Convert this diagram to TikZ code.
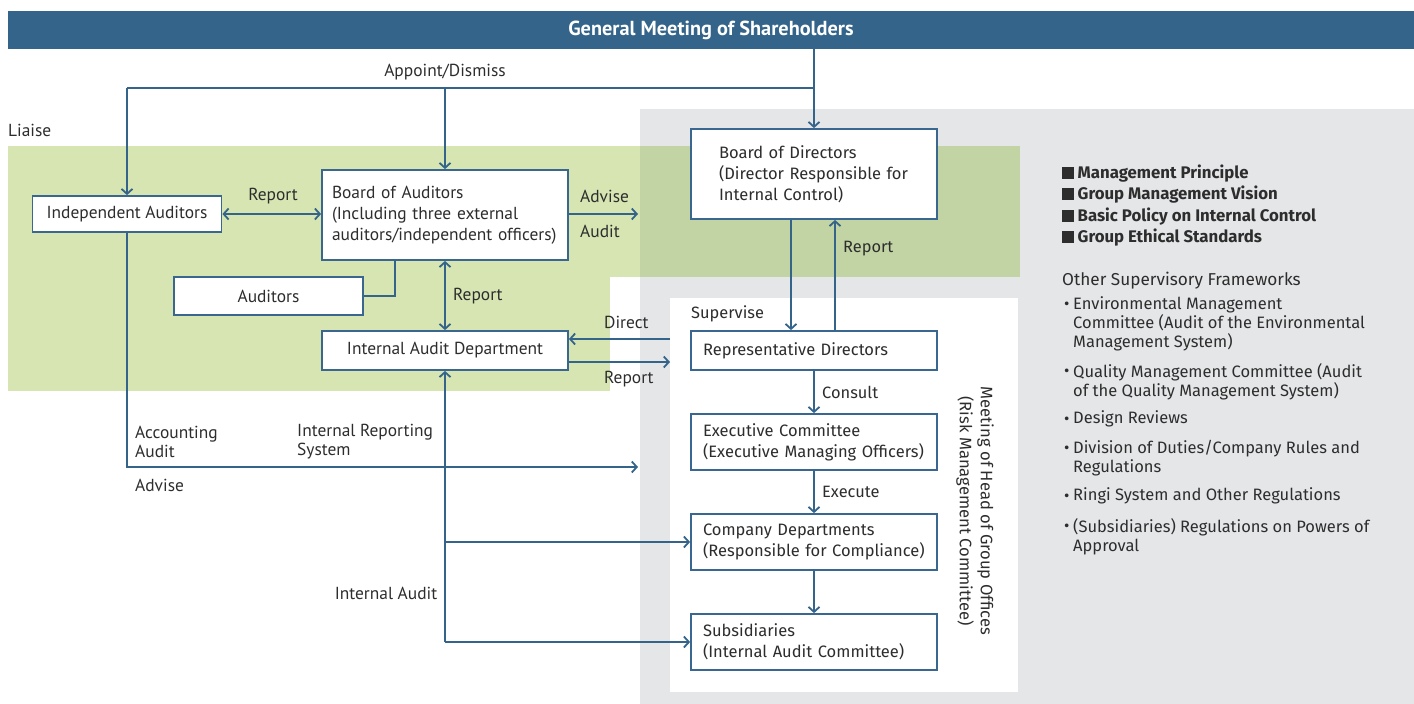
\documentclass[tikz,border=0pt]{standalone}
\usepackage{fontspec}
\setmainfont{Fira Sans}
\newfontfamily\narrowfont{PT Sans}
\usetikzlibrary{arrows.meta}
\definecolor{blu}{RGB}{52,100,138}
\definecolor{bordr}{RGB}{58,103,144}
\definecolor{grn}{RGB}{214,229,178}
\definecolor{grnd}{RGB}{194,212,163}
\definecolor{gry}{RGB}{229,230,232}
\definecolor{txt}{RGB}{45,45,45}
\tikzset{
  ln/.style={draw=blu, line width=1.8pt},
  arr/.style={ln, -{Straight Barb[length=5pt,width=11pt]}},
  arrb/.style={ln, {Straight Barb[length=5pt,width=11pt]}-{Straight Barb[length=5pt,width=11pt]}},
  lf/.style={text=txt, inner sep=0pt, font=\narrowfont\fontsize{17.4}{19}\selectfont},
  rf/.style={text=txt, inner sep=0pt, font=\fontsize{16.4}{19}\selectfont},
  nbox/.style={draw=bordr, line width=1.8pt, fill=white, text=txt, font=\narrowfont\fontsize{17.4}{21}\selectfont},
  wbox/.style={draw=bordr, line width=1.8pt, fill=white, text=txt, font=\fontsize{16.5}{21}\selectfont,
     minimum width=246pt, align=left, inner xsep=12pt, text width=222pt},
  lst/.style={text=txt, inner sep=0pt, anchor=west, font=\fontsize{16.5}{19}\selectfont, align=left},
  lsb/.style={lst, font=\bfseries\fontsize{16.8}{21}\selectfont},
  bul/.style={lst},
}
\begin{document}
\begin{tikzpicture}[x=1pt,y=-1pt]
\useasboundingbox (0,0) rectangle (1414,704);
% backgrounds
\fill[gry] (640,109) rectangle (1414,704);
\fill[grn] (8,146) rectangle (1020,277);
\fill[grn] (8,277) rectangle (610,391);
\fill[grnd] (640,146) rectangle (1020,277);
\fill[white] (670,298) rectangle (1018,692);
% top bar
\node[fill=blu, minimum width=1406pt, minimum height=38pt, inner sep=0pt, text=white,
  font=\narrowfont\bfseries\fontsize{20.3}{22}\selectfont] (gm) at (711,30) {General Meeting of Shareholders};
% boxes
\node[nbox, minimum width=189pt, minimum height=36pt, inner sep=0pt] (ia) at (127,214) {Independent Auditors};
\node[nbox, minimum width=246pt, minimum height=90pt, inner xsep=10pt, text width=226pt, align=left] (boa) at (445,215)
  {Board of Auditors\\(Including three external\\auditors/independent officers)};
\node[nbox, minimum width=189pt, minimum height=38pt, inner sep=0pt] (aud) at (268.5,296) {Auditors};
\node[nbox, minimum width=246pt, minimum height=39pt, inner sep=0pt] (iad) at (445,350.5) {Internal Audit Department};
\node[wbox, minimum height=90pt, inner xsep=28pt, text width=190pt] (bod) at (814,174)
  {Board of Directors\\(Director Responsible for\\Internal Control)};
\node[wbox, minimum height=39pt] (rd) at (814,350.5) {Representative Directors};
\node[wbox, minimum height=56pt] (ec) at (814,442) {Executive Committee\\(Executive Managing Officers)};
\node[wbox, minimum height=56pt] (cd) at (814,542) {Company Departments\\(Responsible for Compliance)};
\node[wbox, minimum height=56pt] (sub) at (814,642) {Subsidiaries\\(Internal Audit Committee)};
% coordinates
\coordinate (t1) at (127,88);
\coordinate (t2) at (445,88);
\coordinate (t3) at (814,88);
\coordinate (a1) at (395,260);
\coordinate (adv) at (638,214);
\coordinate (c1) at (127,467);
\coordinate (c2) at (638,467);
\coordinate (d1) at (445,642);
\coordinate (d2) at (445,542);
\coordinate (wp1) at (670,339);
\coordinate (wp2) at (670,362);
% connectors
\draw[ln] (gm.south -| t3) -- (t3);
\draw[arr] (t3) -- (bod.north);
\draw[ln] (t1) -- (t3);
\draw[arr] (t1) -- (ia.north);
\draw[arr] (t2) -- (boa.north);
\draw[arrb] (ia.east) -- (boa.west |- ia.east);
\draw[arr] (boa.east |- adv) -- (adv);
\draw[ln] (aud.east) -| (a1);
\draw[arrb] (boa.south) -- (iad.north);
\draw[arr] (ia.south) -- (c1) -- (c2);
\draw[arr] (d1) -- (iad.south);
\draw[arr] (d2) -- (cd.west);
\draw[arr] (d1) -- (sub.west);
\draw[arr] (wp1) -- (iad.east |- wp1);
\draw[arr] (iad.east |- wp2) -- (wp2);
\draw[arr] ([xshift=-23pt]bod.south) -- ([xshift=-23pt]rd.north);
\draw[arr] ([xshift=21pt]rd.north) -- ([xshift=21pt]bod.south);
\draw[arr] (rd.south) -- (ec.north);
\draw[arr] (ec.south) -- (cd.north);
\draw[arr] (cd.south) -- (sub.north);
% labels
\node[lf] (l1) at (445,72) {Appoint/Dismiss};
\node[lf, anchor=west] (l2) at (8,130) {Liaise};
\node[lf] (l3) at (273,196) {Report};
\node[lf, anchor=west] (l4) at (580,196) {Advise};
\node[lf, anchor=west] (l5) at (580,231) {Audit};
\node[lf, anchor=west] (l6) at (453,296) {Report};
\node[lf, anchor=west] (l7) at (604,322) {Direct};
\node[lf, anchor=west] (l8) at (604,379) {Report};
\node[rf, anchor=west] (l9) at (691,314) {Supervise};
\node[rf, anchor=west] (l10) at (843,249) {Report};
\node[rf, anchor=west] (l11) at (822,392) {Consult};
\node[rf, anchor=west] (l12) at (822,492) {Execute};
\node[lf, anchor=west, align=left] (l13) at (135,441.5) {Accounting\\Audit};
\node[lf, anchor=west, align=left] (l14) at (297,441.5) {Internal Reporting\\System};
\node[lf, anchor=west] (l15) at (135,485) {Advise};
\node[lf] (l16) at (386,593) {Internal Audit};
\node[rf, rotate=-90, align=center, font=\fontsize{16.6}{21}\selectfont] (l17) at (975,511)
  {Meeting of Head of Group Offices\\(Risk Management Committee)};
% right list
\node[lsb] (r1) at (1062,174) {\rule{11.5pt}{11.5pt} Management Principle};
\node[lsb] (r2) at (1062,195) {\rule{11.5pt}{11.5pt} Group Management Vision};
\node[lsb] (r3) at (1062,217) {\rule{11.5pt}{11.5pt} Basic Policy on Internal Control};
\node[lsb] (r4) at (1062,238) {\rule{11.5pt}{11.5pt} Group Ethical Standards};
\node[lst, font=\fontsize{17.2}{19}\selectfont] (r5) at (1062,281) {Other Supervisory Frameworks};
\node[bul] (b1) at (1064,306) {\textbullet};
\node[lst, anchor=north west] (r6) at (1073,296) {Environmental Management\\Committee (Audit of the Environmental\\Management System)};
\node[bul] (b2) at (1064,373) {\textbullet};
\node[lst, anchor=north west] (r7) at (1073,363) {Quality Management Committee (Audit\\of the Quality Management System)};
\node[bul] (b3) at (1064,421) {\textbullet};
\node[lst] (r8) at (1073,419) {Design Reviews};
\node[bul] (b4) at (1064,450) {\textbullet};
\node[lst, anchor=north west] (r9) at (1073,440) {Division of Duties/Company Rules and\\Regulations};
\node[bul] (b5) at (1064,498) {\textbullet};
\node[lst] (r10) at (1073,496) {Ringi System and Other Regulations};
\node[bul] (b6) at (1064,528) {\textbullet};
\node[lst, anchor=north west] (r11) at (1073,518) {(Subsidiaries) Regulations on Powers of\\Approval};
\end{tikzpicture}
\end{document}
